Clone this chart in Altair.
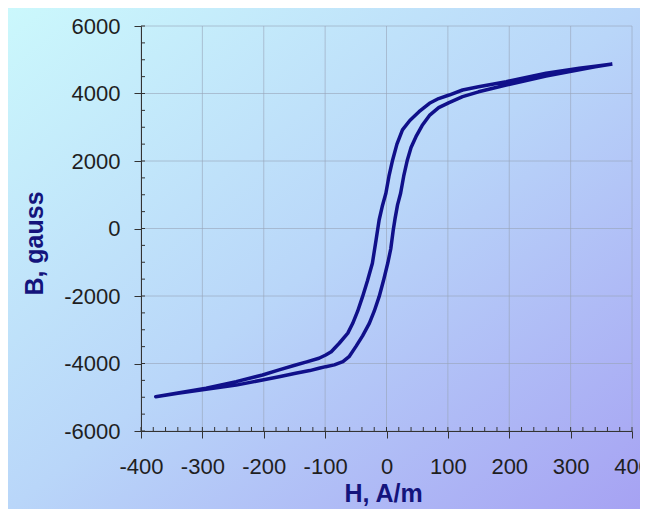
import altair as alt
import pandas as pd

# Descending branch (upper curve), H in A/m, B in gauss
H_desc = [368, 340, 314, 260, 195, 150, 124, 102, 85, 70, 53, 38, 26, 17, 10, 4, -1, -7, -12,
          -17, -23, -31, -39, -47, -55, -63, -77, -90, -99, -110, -130, -148, -175, -202, -245,
          -294, -340, -376]
B_desc = [4874, 4810, 4746, 4598, 4350, 4200, 4104, 3955, 3850, 3710, 3460, 3200, 2920, 2500, 2030,
          1550, 1043, 650, 252, -340, -1030, -1550, -2020, -2450, -2810, -3100, -3400, -3650, -3748,
          -3845, -3950, -4044, -4190, -4340, -4538, -4735, -4870, -4983]

# Ascending branch (lower curve)
H_asc = [-376, -340, -294, -245, -202, -175, -148, -125, -110, -99, -85, -71, -61, -50, -39, -28,
         -20, -12, -5, 2, 7, 11, 14, 18, 23, 28, 34, 40, 48, 58, 70, 85, 102, 124, 150, 195, 260,
         314, 340, 368]
B_asc = [-4983, -4880, -4760, -4640, -4489, -4390, -4291, -4210, -4142, -4094, -4040, -3946, -3798,
         -3500, -3180, -2810, -2450, -2020, -1550, -1030, -600, -44, 300, 700, 1043, 1550, 2030,
         2400, 2720, 3050, 3350, 3580, 3730, 3906, 4050, 4252, 4519, 4700, 4790, 4874]

x_ticks = [-400, -300, -200, -100, 0, 100, 200, 300, 400]
y_ticks = [-6000, -4000, -2000, 0, 2000, 4000, 6000]
x_minor = list(range(-400, 401, 20))
y_minor = list(range(-6000, 6001, 500))

H = H_desc + H_asc
B = B_desc + B_asc
df = pd.DataFrame({"H": H, "B": B, "i": list(range(len(H)))})

W, HGT = 491, 405
PAD_L, PAD_T = 133, 18
TOTAL_W, TOTAL_H = 632, 501

navy = "#14147c"
xscale = alt.Scale(domain=[-400, 400], nice=False, zero=False)
yscale = alt.Scale(domain=[-6000, 6000], nice=False, zero=False)

bg = alt.Chart(pd.DataFrame({"a": [0]})).mark_rect(
    fill=alt.Gradient(
        gradient="linear",
        stops=[
            alt.GradientStop(color="#cbf8fc", offset=0),
            alt.GradientStop(color="#b9d6f9", offset=0.5),
            alt.GradientStop(color="#a6a2f3", offset=1),
        ],
        x1=0, y1=0, x2=1, y2=1,
    )
).encode(
    x=alt.value(-PAD_L), x2=alt.value(TOTAL_W - PAD_L),
    y=alt.value(-PAD_T), y2=alt.value(TOTAL_H - PAD_T),
)

gridx = alt.Chart(pd.DataFrame({"v": x_ticks})).mark_rule(color="#98a4b8", opacity=0.6, strokeWidth=1).encode(
    x=alt.X("v:Q", scale=xscale), y=alt.value(0), y2=alt.value(HGT),
)
gridy = alt.Chart(pd.DataFrame({"v": y_ticks})).mark_rule(color="#98a4b8", opacity=0.6, strokeWidth=1).encode(
    y=alt.Y("v:Q", scale=yscale), x=alt.value(0), x2=alt.value(W),
)

label_expr = "'' + datum.value"

xaxis = alt.Axis(
    values=x_ticks, grid=False, zindex=2, labelExpr=label_expr,
    tickSize=7, tickColor="#333333", domainColor="#333333",
    labelFont="Liberation Sans", labelFontSize=22, labelColor="#1f1f1f", labelPadding=18,
    labelFlush=False, labelOverlap=False,
    title="H, A/m", titleFont="Liberation Sans", titleFontSize=25, titleFontWeight="bold",
    titleColor=navy, titleX=242, titleY=70, titleBaseline="alphabetic", titleAlign="center",
)
yaxis = alt.Axis(
    values=y_ticks, grid=False, zindex=2, labelExpr=label_expr,
    tickSize=7, tickColor="#333333", domainColor="#333333",
    labelFont="Liberation Sans", labelFontSize=22, labelColor="#1f1f1f", labelPadding=14,
    labelFlush=False, labelOverlap=False,
    title="B, gauss", titleFont="Liberation Sans", titleFontSize=25, titleFontWeight="bold",
    titleColor=navy, titleAngle=270, titleX=-99, titleY=217, titleBaseline="alphabetic",
    titleAlign="center",
)

loop = alt.Chart(df).mark_line(color="#10108a", strokeWidth=3.5, strokeJoin="round").encode(
    x=alt.X("H:Q", scale=xscale, axis=xaxis),
    y=alt.Y("B:Q", scale=yscale, axis=yaxis),
    order="i:O",
)

xm = alt.Chart(pd.DataFrame({"v": x_minor})).mark_rule(color="#333333", strokeWidth=1).encode(
    x=alt.X("v:Q", scale=xscale), y=alt.value(HGT - 4), y2=alt.value(HGT),
)
ym = alt.Chart(pd.DataFrame({"v": y_minor})).mark_rule(color="#333333", strokeWidth=1).encode(
    y=alt.Y("v:Q", scale=yscale), x=alt.value(0), x2=alt.value(4),
)

chart = alt.layer(bg, gridx, gridy, loop, xm, ym).properties(
    width=W, height=HGT,
    autosize=alt.AutoSizeParams(type="none"),
    padding={"left": PAD_L, "top": PAD_T, "right": TOTAL_W - PAD_L - W, "bottom": TOTAL_H - PAD_T - HGT},
    background="#b9d6f9",
).configure_view(stroke="#8a93a6", strokeWidth=1)

chart.save("out.html", embed_options={"renderer": "svg", "actions": False})
